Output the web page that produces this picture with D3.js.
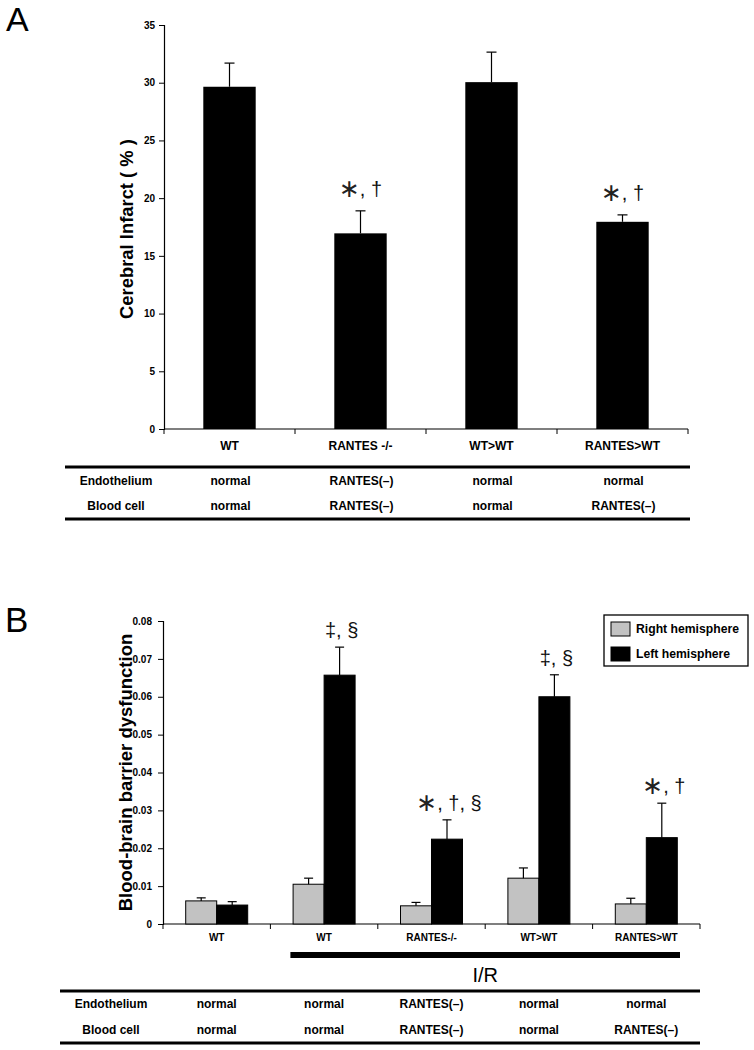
<!DOCTYPE html>
<html><head><meta charset="utf-8">
<script src="https://cdn.jsdelivr.net/npm/d3@7"></script>
<style>
body{margin:0;background:#fff;}
svg{display:block;font-family:"Liberation Sans",Arial,sans-serif;}
</style></head>
<body><svg id="c" width="754" height="1050"></svg>
<script>
// ---------- Panel A data ----------
const catsA = ["WT", "RANTES -/-", "WT>WT", "RANTES>WT"];
const infarct = [29.65, 16.95, 30.05, 17.95];
const infarctErr = [2.05, 1.95, 2.6, 0.6];
const annotA = ["", "*, †", "", "*, †"];
const yTicksA = [0, 5, 10, 15, 20, 25, 30, 35];
const rowLabels = ["Endothelium", "Blood cell"];
const endoA = ["normal", "RANTES(–)", "normal", "normal"];
const bloodA = ["normal", "RANTES(–)", "normal", "RANTES(–)"];

// ---------- Panel B data ----------
const catsB = ["WT", "WT", "RANTES-/-", "WT>WT", "RANTES>WT"];
const seriesB = ["Right hemisphere", "Left hemisphere"];
const rightVals = [0.0061, 0.0105, 0.0048, 0.0121, 0.0053];
const rightErr = [0.0008, 0.0016, 0.0009, 0.0027, 0.0015];
const leftVals = [0.0050, 0.0657, 0.0224, 0.0600, 0.0228];
const leftErr = [0.0009, 0.0074, 0.0051, 0.0058, 0.0091];
const annotB = ["", "‡, §", "*, †, §", "‡, §", "*, †"];
const yTicksB = [0, 0.01, 0.02, 0.03, 0.04, 0.05, 0.06, 0.07, 0.08];
const endoB = ["normal", "normal", "RANTES(–)", "normal", "normal"];
const bloodB = ["normal", "normal", "RANTES(–)", "normal", "RANTES(–)"];
const irLabel = "I/R";

const svg = d3.select("#c");
const colors = ["#c2c2c2", "#000000"];

function annotate(g, str, x, y) {
  if (!str) return;
  const t = g.append("text").attr("x", x).attr("y", y).attr("text-anchor", "middle")
    .attr("font-size", 20).attr("fill", "#111");
  const parts = str.split("*");
  parts.forEach((p, i) => {
    if (i > 0) {
      t.append("tspan").attr("font-size", 25).attr("font-family", "DejaVu Sans, sans-serif")
        .attr("fill", "#222").attr("dy", 1).text("∗");
      t.append("tspan").attr("dy", -1).text(p);
    } else if (p) {
      t.append("tspan").text(p);
    }
  });
}

// ================= PANEL A =================
{
  const g = svg.append("g");
  g.append("text").attr("x", 6).attr("y", 31).attr("font-size", 34).text("A");
  const y = d3.scaleLinear().domain([0, 35]).range([429, 25]);
  const x = d3.scaleBand().domain(d3.range(catsA.length)).range([164, 688]);
  const ax = g.append("g").attr("transform", "translate(164,0)")
    .call(d3.axisLeft(y).tickValues(yTicksA).tickSize(5).tickPadding(4).tickFormat(d3.format("d")));
  ax.select(".domain").attr("stroke", "#000").attr("stroke-width", 1.2);
  ax.selectAll(".tick text").attr("font-size", 10).attr("font-weight", "bold").attr("font-family", "Liberation Sans, Arial");
  // x axis
  g.append("line").attr("x1", x.range()[0]).attr("x2", x.range()[1]).attr("y1", y(0)).attr("y2", y(0))
    .attr("stroke", "#000").attr("stroke-width", 1.2);
  const bounds = d3.range(catsA.length + 1).map(i => x.range()[0] + i * x.step());
  g.selectAll(".xt").data(bounds).join("line").attr("x1", d => d).attr("x2", d => d)
    .attr("y1", y(0)).attr("y2", y(0) + 5).attr("stroke", "#000");
  const bw = x.bandwidth() * 0.4;
  g.selectAll(".bar").data(infarct).join("rect")
    .attr("x", (d, i) => x(i) + (x.bandwidth() - bw) / 2).attr("width", bw)
    .attr("y", d => y(d)).attr("height", d => y(0) - y(d)).attr("fill", "#000");
  infarct.forEach((v, i) => {
    const cx = x(i) + x.bandwidth() / 2;
    g.append("line").attr("x1", cx).attr("x2", cx).attr("y1", y(v)).attr("y2", y(v + infarctErr[i])).attr("stroke", "#000").attr("stroke-width", 1.2);
    g.append("line").attr("x1", cx - 5).attr("x2", cx + 5).attr("y1", y(v + infarctErr[i])).attr("y2", y(v + infarctErr[i])).attr("stroke", "#000").attr("stroke-width", 1.2);
    annotate(g, annotA[i], cx, y(v + infarctErr[i]) - 15);
    g.append("text").attr("x", cx).attr("y", 450).attr("text-anchor", "middle")
      .attr("font-size", 12).attr("font-weight", "bold").text(catsA[i]);
  });
  g.append("text").attr("transform", `translate(133,${(y(0) + y(35)) / 2 + 2}) rotate(-90)`)
    .attr("text-anchor", "middle").attr("font-size", 18.4).attr("font-weight", "bold").text("Cerebral Infarct ( % )");
  // table
  [467, 519].forEach(ly => g.append("line").attr("x1", 65).attr("x2", 690).attr("y1", ly).attr("y2", ly).attr("stroke", "#000").attr("stroke-width", 3));
  [endoA, bloodA].forEach((row, r) => {
    const by = 485 + r * 25;
    g.append("text").attr("x", 116).attr("y", by).attr("text-anchor", "middle").attr("font-size", 12).attr("font-weight", "bold").text(rowLabels[r]);
    row.forEach((t, i) => g.append("text").attr("x", x(i) + x.bandwidth() / 2 + 1).attr("y", by).attr("text-anchor", "middle")
      .attr("font-size", 12).attr("font-weight", "bold").text(t));
  });
}

// ================= PANEL B =================
{
  const g = svg.append("g");
  g.append("text").attr("x", 5).attr("y", 632).attr("font-size", 35).text("B");
  const y = d3.scaleLinear().domain([0, 0.08]).range([924, 621]);
  const x = d3.scaleBand().domain(d3.range(catsB.length)).range([163, 700]);
  const xs = d3.scaleBand().domain([0, 1]).range([0, 62]);
  const off = (x.bandwidth() - 62) / 2;
  const ax = g.append("g").attr("transform", "translate(163,0)")
    .call(d3.axisLeft(y).tickValues(yTicksB).tickSize(5).tickPadding(6).tickFormat(d => d === 0 ? "0" : d3.format(".2f")(d)));
  ax.select(".domain").attr("stroke", "#000").attr("stroke-width", 1.2);
  ax.selectAll(".tick text").attr("font-size", 10).attr("font-weight", "bold").attr("font-family", "Liberation Sans, Arial");
  g.append("line").attr("x1", x.range()[0]).attr("x2", x.range()[1]).attr("y1", y(0)).attr("y2", y(0))
    .attr("stroke", "#000").attr("stroke-width", 1.2);
  const bounds = d3.range(catsB.length + 1).map(i => x.range()[0] + i * x.step());
  g.selectAll(".xt").data(bounds).join("line").attr("x1", d => d).attr("x2", d => d)
    .attr("y1", y(0)).attr("y2", y(0) + 5).attr("stroke", "#000");
  const sets = [[rightVals, rightErr], [leftVals, leftErr]];
  sets.forEach(([vals, errs], s) => {
    vals.forEach((v, i) => {
      const bx = x(i) + off + xs(s);
      g.append("rect").attr("x", bx).attr("y", y(v)).attr("width", xs.bandwidth()).attr("height", y(0) - y(v))
        .attr("fill", colors[s]).attr("stroke", "#000").attr("stroke-width", 1);
      const cx = bx + xs.bandwidth() / 2;
      g.append("line").attr("x1", cx).attr("x2", cx).attr("y1", y(v)).attr("y2", y(v + errs[i])).attr("stroke", "#000").attr("stroke-width", 1.2);
      g.append("line").attr("x1", cx - 4.5).attr("x2", cx + 4.5).attr("y1", y(v + errs[i])).attr("y2", y(v + errs[i])).attr("stroke", "#000").attr("stroke-width", 1.2);
      if (s === 1) annotate(g, annotB[i], cx + 2, y(v + errs[i]) - 10);
    });
  });
  catsB.forEach((c, i) => g.append("text").attr("x", x(i) + x.bandwidth() / 2).attr("y", 941).attr("text-anchor", "middle")
    .attr("font-size", 10).attr("font-weight", "bold").text(c));
  g.append("text").attr("transform", `translate(132,${(y(0) + y(0.08)) / 2}) rotate(-90)`)
    .attr("text-anchor", "middle").attr("font-size", 18.5).attr("font-weight", "bold").text("Blood-brain barrier dysfunction");
  // legend
  g.append("rect").attr("x", 604).attr("y", 615).attr("width", 144).attr("height", 51).attr("fill", "#fff").attr("stroke", "#000").attr("stroke-width", 1.3);
  seriesB.forEach((s, i) => {
    g.append("rect").attr("x", 611).attr("y", 622 + i * 25).attr("width", 19).attr("height", 14).attr("fill", colors[i]).attr("stroke", "#000").attr("stroke-width", 1);
    g.append("text").attr("x", 636).attr("y", 633 + i * 25).attr("font-size", 12.2).attr("font-weight", "bold").text(s);
  });
  // I/R bar
  const irx1 = x(1) + 20, irx2 = x(4) + x.bandwidth() - 20;
  g.append("rect").attr("x", irx1).attr("y", 952).attr("width", irx2 - irx1).attr("height", 6).attr("fill", "#000");
  g.append("text").attr("x", (irx1 + irx2) / 2).attr("y", 982).attr("text-anchor", "middle").attr("font-size", 20).text(irLabel);
  // table
  [991, 1043].forEach(ly => g.append("line").attr("x1", 60).attr("x2", 700).attr("y1", ly).attr("y2", ly).attr("stroke", "#000").attr("stroke-width", 3));
  [endoB, bloodB].forEach((row, r) => {
    const by = 1008 + r * 26;
    g.append("text").attr("x", 111).attr("y", by).attr("text-anchor", "middle").attr("font-size", 12).attr("font-weight", "bold").text(rowLabels[r]);
    row.forEach((t, i) => g.append("text").attr("x", x(i) + x.bandwidth() / 2).attr("y", by).attr("text-anchor", "middle")
      .attr("font-size", 12).attr("font-weight", "bold").text(t));
  });
}
</script></body></html>
